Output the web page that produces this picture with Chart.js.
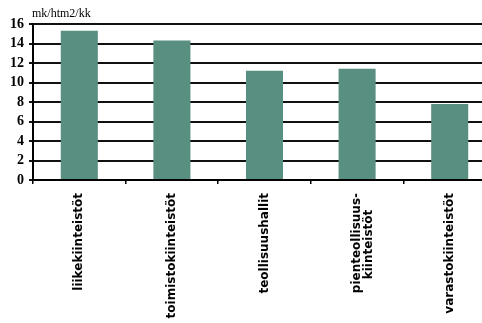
<!DOCTYPE html>
<html>
<head>
<meta charset="utf-8">
<script src="https://cdn.jsdelivr.net/npm/chart.js@4.4.1/dist/chart.umd.min.js"></script>
<style>
  html, body { margin: 0; padding: 0; background: #fff; overflow: hidden; }
  #wrap { width: 496px; height: 323px; }
</style>
</head>
<body>
<div id="wrap"><canvas id="chart" width="496" height="323"></canvas></div>
<script>
// vuokrat kiinteistötyypeittäin
const categories = [
  'liikekiinteistöt',
  'toimistokiinteistöt',
  'teollisuushallit',
  ['pienteollisuus-', 'kiinteistöt    '],
  'varastokiinteistöt'
];
const rents = [15.3, 14.3, 11.2, 11.4, 7.8];
const yTicks = [0, 2, 4, 6, 8, 10, 12, 14, 16];
const unitLabel = 'mk/htm2/kk';

const unitPlugin = {
  id: 'unit',
  afterDraw(c) {
    const ctx = c.ctx;
    ctx.save();
    ctx.font = '12px "Liberation Serif"';
    ctx.fillStyle = '#000';
    ctx.textBaseline = 'alphabetic';
    ctx.fillText(unitLabel, c.chartArea.left - 1, 17);
    ctx.restore();
  }
};

const chart = document.querySelector('#chart').getContext('2d');
new Chart(chart, {
  type: 'bar',
  data: {
    labels: categories,
    datasets: [{
      data: rents,
      backgroundColor: '#588f80',
      categoryPercentage: 1,
      barPercentage: 0.4
    }]
  },
  options: {
    responsive: false,
    animation: false,
    layout: { padding: { top: 24, right: 0, left: 0, bottom: 0 } },
    plugins: { legend: { display: false }, tooltip: { enabled: false } },
    scales: {
      x: {
        afterFit(s) { s.height = 143; },
        border: { color: '#000', width: 2 },
        grid: { offset: true, drawOnChartArea: false, color: '#000', lineWidth: 1.5, tickLength: 4 },
        ticks: {
          minRotation: 90, maxRotation: 90, autoSkip: false, padding: 9,
          color: '#000',
          font: { family: 'DejaVu Sans', weight: 'bold', size: 12, lineHeight: 1 }
        }
      },
      y: {
        min: 0, max: 16,
        afterFit(s) { s.width = 33; },
        afterBuildTicks(s) { s.ticks = yTicks.map(v => ({ value: v })); },
        border: { color: '#000', width: 2 },
        grid: { color: '#111', lineWidth: 2, tickLength: 4 },
        ticks: {
          autoSkip: false, padding: 5, color: '#000',
          font: { family: 'Liberation Serif', weight: 'bold', size: 14 }
        }
      }
    }
  },
  plugins: [unitPlugin]
});
</script>
</body>
</html>
